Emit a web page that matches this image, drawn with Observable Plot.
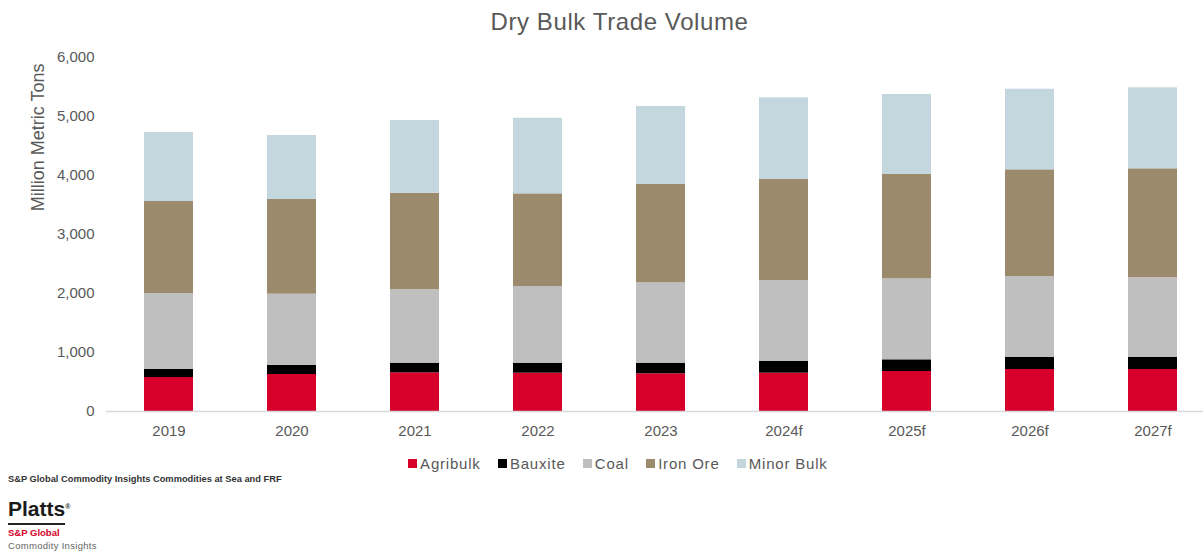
<!DOCTYPE html>
<html>
<head>
<meta charset="utf-8">
<script src="https://cdn.jsdelivr.net/npm/d3@7"></script>
<script src="https://cdn.jsdelivr.net/npm/@observablehq/plot@0.6"></script>
<style>
  html, body { margin: 0; padding: 0; background: #fff; }
  body { width: 1203px; height: 554px; position: relative; overflow: hidden; font-family: "Liberation Sans", Arial, sans-serif; }
  #title { position: absolute; top: 7px; left: 0; width: 1203px; padding-left: 36px; box-sizing: border-box; text-align: center; font-size: 24px; letter-spacing: 0.6px; color: #595959; line-height: 30px; }
  #chart { position: absolute; top: 45px; left: 0; }
  #legend { position: absolute; top: 453px; left: 0; width: 1203px; padding-left: 50px; box-sizing: border-box; }
  #legend .lg-swatches-wrap { justify-content: center; min-height: 20px; }
  #legend .lg-swatch { margin-right: 1.15em; letter-spacing: 0.8px; }
  #legend .lg-swatch svg { margin-right: 3px; }
  #source { position: absolute; top: 474px; left: 8px; font-size: 9.3px; font-weight: bold; color: #333; }
  #platts { position: absolute; top: 497px; left: 8px; font-size: 21px; font-weight: bold; color: #1a1a1a; line-height: 24px; }
  #platts sup { font-size: 7px; vertical-align: top; position: relative; top: -2px; }
  #rule { position: absolute; top: 523px; left: 8px; width: 57px; height: 2px; background: #222; }
  #spg { position: absolute; top: 527px; left: 8px; font-size: 9.5px; font-weight: bold; color: #d6002a; }
  #ci { position: absolute; top: 540px; left: 8px; font-size: 9.5px; color: #666; letter-spacing: 0.3px; }
</style>
</head>
<body>
<div id="title">Dry Bulk Trade Volume</div>
<div id="chart"></div>
<div id="legend"></div>
<div id="source">S&amp;P Global Commodity Insights Commodities at Sea and FRF</div>
<div id="platts">Platts<sup>®</sup></div>
<div id="rule"></div>
<div id="spg">S&amp;P Global</div>
<div id="ci">Commodity Insights</div>
<script>
const years = ["2019", "2020", "2021", "2022", "2023", "2024f", "2025f", "2026f", "2027f"];
const series = ["Agribulk", "Bauxite", "Coal", "Iron Ore", "Minor Bulk"];
const colors = ["#d6002a", "#000000", "#bfbfbf", "#9c8a6d", "#c4d6de"];
const agribulk = [576, 627, 656, 649, 639, 649, 678, 712, 712];
const bauxite  = [136, 153, 163, 169, 180, 203, 198, 208, 208];
const coal     = [1288, 1208, 1244, 1300, 1363, 1368, 1373, 1368, 1346];
const ironOre  = [1559, 1605, 1637, 1571, 1666, 1712, 1768, 1808, 1847];
const minorBulk = [1169, 1085, 1232, 1281, 1322, 1385, 1356, 1366, 1373];
const yTicks = [0, 1000, 2000, 3000, 4000, 5000, 6000];
const yLabel = "Million Metric Tons";

const valuesBySeries = [agribulk, bauxite, coal, ironOre, minorBulk];
const data = [];
series.forEach((s, si) => years.forEach((y, yi) => data.push({year: y, type: s, value: valuesBySeries[si][yi]})));

const fmt = d3.format(",");
const chart = Plot.plot({
  width: 1203,
  height: 400,
  marginTop: 12,
  marginBottom: 34,
  marginLeft: 106,
  marginRight: 0,
  style: {fontFamily: "'Liberation Sans', Arial, sans-serif", fontSize: "15px", color: "#595959", background: "#fff"},
  x: {domain: years, paddingInner: 0.6, paddingOuter: 0.256, align: 0.59, label: null},
  y: {domain: [0, 6000], label: null},
  color: {domain: series, range: colors},
  marks: [
    Plot.barY(data, {x: "year", y: "value", fill: "type", order: series}),
    Plot.ruleY([0], {stroke: "#d9d9d9", strokeWidth: 1.5}),
    Plot.axisY(yTicks, {tickSize: 0, tickPadding: 12, tickFormat: fmt, label: null, fill: "#595959", style: {letterSpacing: "1.1px"}}),
    Plot.axisX({tickSize: 0, tickPadding: 14, label: null, fill: "#595959", style: {letterSpacing: "1px"}}),
    Plot.text([yLabel], {frameAnchor: "top-left", rotate: -90, dx: -75, dy: 6, textAnchor: "end", fill: "#595959", fontSize: 18})
  ]
});
document.getElementById("chart").appendChild(chart);

const legend = Plot.legend({
  color: {domain: series, range: colors},
  legend: "swatches",
  swatchSize: 9,
  className: "lg",
  style: {fontFamily: "'Liberation Sans', Arial, sans-serif", fontSize: "15px", color: "#595959", margin: "0"}
});
document.getElementById("legend").appendChild(legend);
</script>
</body>
</html>
